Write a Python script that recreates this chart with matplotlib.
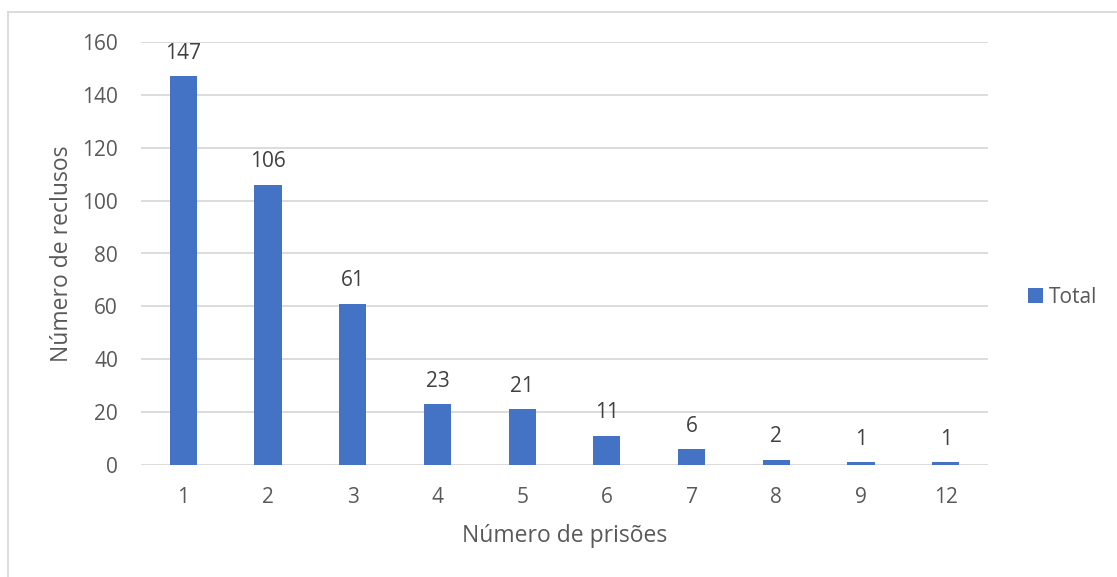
import matplotlib
matplotlib.use("Agg")
import matplotlib.pyplot as plt
from matplotlib.lines import Line2D

categories = ["1", "2", "3", "4", "5", "6", "7", "8", "9", "12"]
values = [147, 106, 61, 23, 21, 11, 6, 2, 1, 1]
yticks = [0, 20, 40, 60, 80, 100, 120, 140, 160]
series_name = "Total"

plt.rcParams['font.family'] = ['Open Sans', 'DejaVu Sans']
bar_color = "#4472C4"
tick_color = "#595959"
label_color = "#404040"
grid_color = "#D9D9D9"

fig = plt.figure(figsize=(11.17, 5.77), dpi=100)
ax = fig.add_axes([141/1117, 112/577, 847/1117, 423/577])

x = list(range(len(categories)))
ax.bar(x, values, width=0.32, color=bar_color, label=series_name, zorder=3)
for xi, v in zip(x, values):
    ax.annotate(str(v), (xi, v), xytext=(0, 9), textcoords="offset points",
                ha="center", va="bottom", fontsize=15, color=label_color)

ax.set_xlim(-0.5, len(categories) - 0.5)
ax.set_ylim(0, 160)
ax.set_yticks(yticks)
ax.set_xticks(x)
ax.set_xticklabels(categories)
ax.tick_params(axis="both", length=0, labelsize=15, colors=tick_color)
ax.tick_params(axis="x", pad=15.5)
ax.tick_params(axis="y", pad=16.5)
ax.yaxis.grid(True, color=grid_color, linewidth=1.3, zorder=0)
for s in ax.spines.values():
    s.set_visible(False)

ax.set_ylabel("Número de reclusos", fontsize=16.5, color=tick_color, labelpad=6)
ax.set_xlabel("Número de prisões", fontsize=16.5, color=tick_color, labelpad=12)

ax.legend(loc="center left", bbox_to_anchor=(1.025, 0.397), frameon=False,
          fontsize=15, labelcolor=tick_color, handlelength=0.7, handleheight=0.7,
          handletextpad=0.3)

# chart border (left and top visible)
fig.add_artist(Line2D([8/1117, 8/1117], [0, 1 - 12/577], transform=fig.transFigure,
                      color=grid_color, linewidth=1.3))
fig.add_artist(Line2D([8/1117, 1116/1117], [1 - 12/577, 1 - 12/577], transform=fig.transFigure,
                      color=grid_color, linewidth=1.3))

fig.savefig("out.png", dpi=100)
